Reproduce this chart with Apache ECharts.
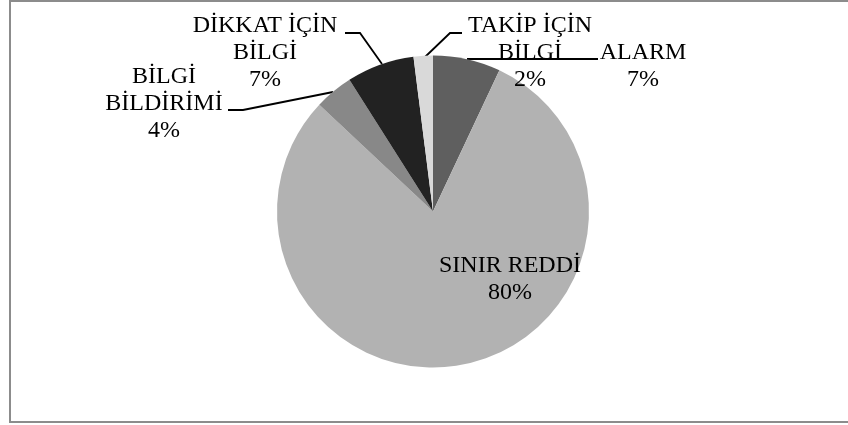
<!DOCTYPE html>
<html>
<head>
<meta charset="utf-8">
<script src="https://cdn.jsdelivr.net/npm/echarts@6/dist/echarts.min.js"></script>
<style>
html,body{margin:0;padding:0;background:#fff;}
#c{width:848px;height:425px;}
</style>
</head>
<body>
<div id="c"></div>
<script>
// Data
var categories = ['ALARM', 'SINIR REDDİ', 'BİLGİ\nBİLDİRİMİ', 'DİKKAT İÇİN\nBİLGİ', 'TAKİP İÇİN\nBİLGİ'];
var values = [7, 80, 4, 7, 2];

// Styling / layout (not data)
var colors = ['#5f5f5f', '#b2b2b2', '#888888', '#222222', '#d9d9d9'];
var labelPos = [[643, 66], [510, 279], [164, 104], [265, 53], [530, 53]];
var linePts = [
  [[467, 59], [532, 59], [598, 59]],
  null,
  [[333, 92], [243, 110], [228, 110]],
  [[382, 64], [360, 33], [345, 33]],
  [[425, 57], [450, 33], [462, 33]]
];

var chart = echarts.init(document.getElementById('c'), null, {renderer: 'canvas'});
var data = categories.map(function (c, i) {
  var item = {name: c, value: values[i], itemStyle: {color: colors[i]}};
  if (i === 1) item.labelLine = {show: false};
  return item;
});

chart.setOption({
  animation: false,
  backgroundColor: '#ffffff',
  graphic: [{
    type: 'rect',
    shape: {x: 10, y: 1, width: 850, height: 421},
    style: {fill: 'none', stroke: '#8c8c8c', lineWidth: 2},
    silent: true
  }],
  series: [{
    type: 'pie',
    center: [433, 211.5],
    radius: [0, 156],
    startAngle: 90,
    clockwise: true,
    data: data,
    label: {
      show: true,
      formatter: '{b}\n{d}%',
      fontFamily: 'Liberation Serif',
      fontSize: 24,
      lineHeight: 27,
      color: '#000',
      align: 'center'
    },
    labelLine: {show: true, lineStyle: {color: '#000', width: 1.8}},
    labelLayout: function (p) {
      var i = p.dataIndex;
      var r = {x: labelPos[i][0], y: labelPos[i][1], align: 'center', verticalAlign: 'middle'};
      if (linePts[i]) r.labelLinePoints = linePts[i];
      return r;
    },
    emphasis: {disabled: true}
  }]
});
</script>
</body>
</html>
